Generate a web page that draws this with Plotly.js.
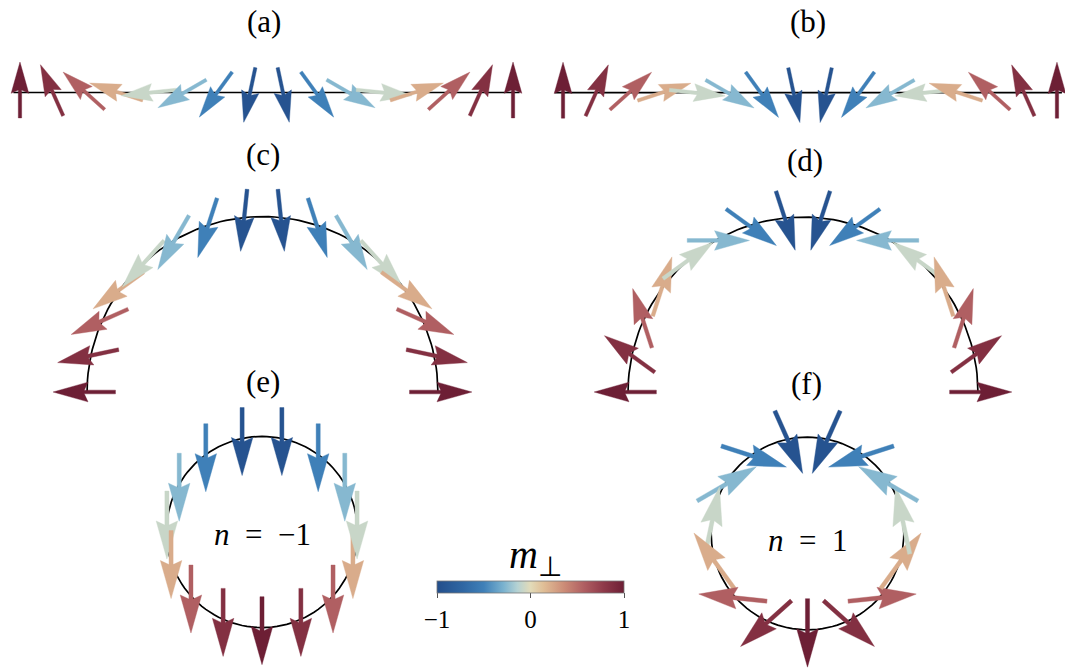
<!DOCTYPE html>
<html><head><meta charset="utf-8">
<script src="https://cdn.plot.ly/plotly-3.0.1.min.js"></script>
<style>html,body{margin:0;padding:0;background:#fff}#chart{width:1065px;height:668px}</style>
</head><body><div id="chart"></div>
<script>
const W = 1065, H = 668;

// ---------- data ----------
// positions along the straight rods (a),(b), in arrow-spacing units
const posLine = [0,1,2,3,4,5,6,7,8,9,10,11,12,13,14,15];
// arrow directions (degrees, global frame)
const angA = [90,114,138,162,186,210,234,258,282,306,330,354,18,42,66,90];
const angB = [90,66,42,18,-6,-30,-54,-78,-102,-126,-150,-174,162,138,114,90];
// m_perp of each arrow on the open rods
const mLine = [1,0.86,0.57,0.22,-0.08,-0.26,-0.5,-0.94,-0.94,-0.5,-0.26,-0.08,0.22,0.57,0.86,1];
// arc positions (polar angle, degrees) for (c),(d)
const thetaArc = [180,168,156,144,132,120,108,96,84,72,60,48,36,24,12,0];
const angC = [180,192,204,216,228,240,252,264,276,288,300,312,324,336,348,360];
const angD = [180,144,108,72,36,0,-36,-72,-108,-144,-180,-216,-252,-288,-324,-360];
// ring positions (polar angle, degrees) for (e),(f)
const thetaRing = [270,294,318,342,6,30,54,78,102,126,150,174,198,222,246];
const angE = [270,270,270,270,270,270,270,270,270,270,270,270,270,270,270];
const angF = [270,318,6,54,102,150,198,246,294,342,30,78,126,174,222];
const mRing = [1,0.86,0.57,0.22,-0.08,-0.26,-0.5,-0.94,-0.94,-0.5,-0.26,-0.08,0.22,0.57,0.86];
// colour bar
const cbTicks = [-1,0,1];
const cbTickText = ['\u22121','0','1'];
const cbTitle = '<i>m</i><sub>\u22a5</sub>';
const panelLabels = ['(a)','(b)','(c)','(d)','(e)','(f)'];
const ringLabels = ['<i>n</i>\u2002=\u2002\u22121','<i>n</i>\u2002=\u20021'];

// ---------- style / layout constants ----------
const FONT = 'Liberation Serif, Times New Roman, serif';
const cscale = [[0,'#234e8b'],[0.14,'#2f67a3'],[0.25,'#3f80b8'],[0.355,'#7ab2cf'],[0.43,'#b5d2d3'],
  [0.5,'#e2dbb9'],[0.57,'#e0be96'],[0.68,'#cc8c77'],[0.785,'#b05f62'],[0.89,'#8f3a4a'],[1,'#6d1f35']];
const R_ARC = 4.78, R_RING = 2.39;
const L = 1.7, PIV = 0.455, HL = 0.56*L, HA = 0.50*L, HW = 0.158*L, SW = 0.03*L;

// panels: pixel anchor (cx,cy) of data point (ux,uy), px per unit k, clip box [l,r,t,b]
const panels = [
  {cx:266.5, cy:92.5, k:32.87, ux:7.5, uy:0, box:[0,540,40,140]},
  {cx:810,   cy:92.7, k:32.93, ux:7.5, uy:0, box:[540,1065,40,140]},
  {cx:262.5, cy:392,  k:36.7,  ux:0,   uy:0, box:[20,520,170,420]},
  {cx:803,   cy:392,  k:36.6,  ux:0,   uy:0, box:[560,1065,170,420]},
  {cx:262,   cy:532,  k:40.0,  ux:0,   uy:0, box:[120,420,385,668]},
  {cx:807.5, cy:533.5,k:40.3,  ux:0,   uy:0, box:[660,960,385,668]}
];

function hex2rgb(h){return [parseInt(h.slice(1,3),16),parseInt(h.slice(3,5),16),parseInt(h.slice(5,7),16)];}
function colorOf(m){
  const t = (m+1)/2;
  for(let i=1;i<cscale.length;i++){
    if(t<=cscale[i][0]){
      const a=cscale[i-1], b=cscale[i];
      const f=(t-a[0])/(b[0]-a[0]);
      const ca=hex2rgb(a[1]), cb=hex2rgb(b[1]);
      const c=ca.map((v,j)=>Math.round(v+(cb[j]-v)*f));
      return 'rgb('+c.join(',')+')';
    }
  }
  return cscale[cscale.length-1][1];
}

const traces = [];
function ax(i){return i===0?'':String(i+1);}

function arrow(px,py,angDeg,m,pi){
  const a = angDeg*Math.PI/180;
  const ux=Math.cos(a), uy=Math.sin(a), vx=-uy, vy=ux;
  const tx = px - ux*PIV*L, ty = py - uy*PIV*L;
  const pts = [[0,-SW],[HA,-SW],[L-HL,-HW],[L,0],[L-HL,HW],[HA,SW],[0,SW],[0,-SW]];
  const xs=[], ys=[];
  pts.forEach(p=>{xs.push(tx+ux*p[0]+vx*p[1]); ys.push(ty+uy*p[0]+vy*p[1]);});
  const c = colorOf(m);
  traces.push({type:'scatter',mode:'lines',x:xs,y:ys,fill:'toself',fillcolor:c,
    line:{color:c,width:0.4},xaxis:'x'+ax(pi),yaxis:'y'+ax(pi),hoverinfo:'skip',showlegend:false});
}
function curve(xs,ys,pi){
  traces.push({type:'scatter',mode:'lines',x:xs,y:ys,line:{color:'#000',width:1.7},
    xaxis:'x'+ax(pi),yaxis:'y'+ax(pi),hoverinfo:'skip',showlegend:false});
}

// rods
curve([posLine[0]-0.2,posLine[posLine.length-1]+0.2],[0,0],0);
curve([posLine[0]-0.25,posLine[posLine.length-1]+0.15],[0,0],1);
// arcs
[2,3].forEach(pi=>{
  const xs=[],ys=[];
  for(let d=0; d<=180; d+=2){xs.push(R_ARC*Math.cos(d*Math.PI/180)); ys.push(R_ARC*Math.sin(d*Math.PI/180));}
  curve(xs,ys,pi);
});
[4,5].forEach(pi=>{
  const xs=[],ys=[];
  for(let d=0; d<=360; d+=3){xs.push(R_RING*Math.cos(d*Math.PI/180)); ys.push(R_RING*Math.sin(d*Math.PI/180));}
  curve(xs,ys,pi);
});

posLine.forEach((s,i)=>arrow(s,0,angA[i],mLine[i],0));
posLine.forEach((s,i)=>arrow(s,0,angB[i],mLine[i],1));
thetaArc.forEach((t,i)=>{const r=t*Math.PI/180; arrow(R_ARC*Math.cos(r),R_ARC*Math.sin(r),angC[i],mLine[i],2);});
thetaArc.forEach((t,i)=>{const r=t*Math.PI/180; arrow(R_ARC*Math.cos(r),R_ARC*Math.sin(r),angD[i],mLine[i],3);});
thetaRing.forEach((t,i)=>{const r=t*Math.PI/180; arrow(R_RING*Math.cos(r),R_RING*Math.sin(r),angE[i],mRing[i],4);});
thetaRing.forEach((t,i)=>{const r=t*Math.PI/180; arrow(R_RING*Math.cos(r),R_RING*Math.sin(r),angF[i],mRing[i],5);});

// colour bar carrier
traces.push({type:'scatter',mode:'markers',x:[-1000],y:[-1000],xaxis:'x',yaxis:'y',hoverinfo:'skip',showlegend:false,
  marker:{color:[0],cmin:-1,cmax:1,colorscale:cscale,showscale:true,
    colorbar:{orientation:'h',thicknessmode:'pixels',thickness:12,lenmode:'pixels',len:187,
      x:530.5/W,xanchor:'center',y:1-581/H,yanchor:'top',xpad:0,ypad:0,
      outlinewidth:0.8,outlinecolor:'#777',
      tickmode:'array',tickvals:cbTicks,ticktext:cbTickText,ticks:'outside',ticklen:5,tickcolor:'#555',tickwidth:1,
      tickfont:{family:FONT,size:25,color:'#000'}}}});

const layout = {width:W,height:H,margin:{l:0,r:0,t:0,b:0},paper_bgcolor:'#fff',plot_bgcolor:'rgba(0,0,0,0)',
  showlegend:false,annotations:[],hovermode:false,font:{family:FONT,color:'#000'}};
panels.forEach((p,i)=>{
  const [l,r,t,b]=p.box;
  layout['xaxis'+ax(i)] = {domain:[l/W,r/W],range:[p.ux+(l-p.cx)/p.k,p.ux+(r-p.cx)/p.k],visible:false,
    fixedrange:true,anchor:'y'+ax(i)};
  layout['yaxis'+ax(i)] = {domain:[1-b/H,1-t/H],range:[p.uy-(b-p.cy)/p.k,p.uy+(p.cy-t)/p.k],visible:false,
    fixedrange:true,anchor:'x'+ax(i)};
});
const labelPos = [[263.5,22],[808,22],[263,155],[805,160],[263,381],[806,383]];
panelLabels.forEach((t,i)=>layout.annotations.push({text:t,xref:'paper',yref:'paper',x:labelPos[i][0]/W,
  y:1-labelPos[i][1]/H,xanchor:'center',yanchor:'middle',showarrow:false,
  font:{family:FONT,size:31,color:'#000'}}));
const ringPos = [[262,534],[807,540]];
ringLabels.forEach((t,i)=>layout.annotations.push({text:t,xref:'paper',yref:'paper',x:ringPos[i][0]/W,
  y:1-ringPos[i][1]/H,xanchor:'center',yanchor:'middle',showarrow:false,
  font:{family:FONT,size:31,color:'#000'}}));
layout.annotations.push({text:cbTitle,xref:'paper',yref:'paper',x:535/W,y:1-557/H,xanchor:'center',yanchor:'middle',
  showarrow:false,font:{family:FONT,size:40,color:'#000'}});

Plotly.newPlot('chart',traces,layout,{staticPlot:true,displayModeBar:false});
</script></body></html>
